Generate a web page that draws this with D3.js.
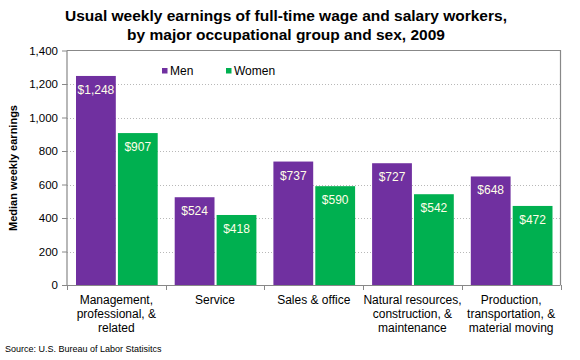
<!DOCTYPE html>
<html><head><meta charset="utf-8">
<script src="https://cdn.jsdelivr.net/npm/d3@7"></script>
<style>body{margin:0;background:#fff}svg{display:block}text{font-family:Arial,"Liberation Sans",sans-serif}</style>
</head><body><svg id="c" width="580" height="360"></svg>
<script>
const categories = [["Management,","professional, &","related"],["Service"],["Sales & office"],["Natural resources,","construction, &","maintenance"],["Production,","transportation, &","material moving"]];
const series = ["Men","Women"];
const men = [1248,524,737,727,648];
const women = [907,418,590,542,472];
const yTicks = [0,200,400,600,800,1000,1200,1400];
const colors = {Men:"#7030A0", Women:"#00B050"};

const svg = d3.select("#c");
const L=67,R=560.5,T=50.5,B=285;
const x0 = d3.scaleBand().domain(d3.range(categories.length)).range([L,R]).paddingInner(0).paddingOuter(0);
const x1 = d3.scaleBand().domain(series).range([9,x0.bandwidth()-8]).paddingInner(0.05);
const y = d3.scaleLinear().domain([0,1400]).range([B,T]);

svg.append("text").attr("x",286).attr("y",21).attr("text-anchor","middle").attr("font-size",15.5).attr("font-weight","bold").text("Usual weekly earnings of full-time wage and salary workers,");
svg.append("text").attr("x",286).attr("y",40).attr("text-anchor","middle").attr("font-size",15.5).attr("font-weight","bold").text("by major occupational group and sex, 2009");

// gridlines
svg.append("g").selectAll("line").data(yTicks.filter(d=>d>0 && d<1400)).join("line")
 .attr("x1",L).attr("x2",R).attr("y1",d=>Math.round(y(d))+0.5).attr("y2",d=>Math.round(y(d))+0.5)
 .attr("stroke","#b8b8b8").attr("stroke-dasharray","1,2");
// top & right border
svg.append("path").attr("d",`M${L},${T}H${R}V${B}`).attr("fill","none").attr("stroke","#888").attr("stroke-width",1.2);

const data = categories.map((c,i)=>({i, vals:[{k:"Men",v:men[i]},{k:"Women",v:women[i]}]}));
const g = svg.append("g").selectAll("g").data(data).join("g").attr("transform",d=>`translate(${x0(d.i)},0)`);
g.selectAll("rect").data(d=>d.vals).join("rect")
 .attr("x",d=>x1(d.k)).attr("width",x1.bandwidth()).attr("y",d=>y(d.v)).attr("height",d=>B-y(d.v)).attr("fill",d=>colors[d.k]);
g.selectAll("text").data(d=>d.vals).join("text")
 .attr("x",d=>x1(d.k)+x1.bandwidth()/2).attr("y",d=>y(d.v)+18).attr("text-anchor","middle")
 .attr("font-size",12).attr("fill","#FFFFE8").text(d=>"$"+d3.format(",")(d.v));

// y axis
const ya = svg.append("g").attr("transform",`translate(${L},0)`).call(d3.axisLeft(y).tickValues(yTicks).tickSize(5).tickPadding(4).tickFormat(d3.format(",")));
ya.select(".domain").attr("stroke","#888").attr("stroke-width",1.2).attr("d",`M0,${T}V${B}`);
ya.selectAll(".tick line").attr("stroke","#888");
ya.selectAll("text").attr("font-size",11.5).attr("fill","#000").attr("font-family","Arial,'Liberation Sans',sans-serif");

// x axis
svg.append("line").attr("x1",L-5).attr("x2",R).attr("y1",B+0.5).attr("y2",B+0.5).attr("stroke","#888").attr("stroke-width",1.2);
svg.append("g").selectAll("line").data(d3.range(categories.length+1)).join("line")
 .attr("x1",d=>Math.round(L+d*x0.bandwidth())+0.5).attr("x2",d=>Math.round(L+d*x0.bandwidth())+0.5)
 .attr("y1",B).attr("y2",B+5).attr("stroke","#888");
const cl = svg.append("g").selectAll("text").data(categories.map((c,i)=>({c,i}))).join("text")
 .attr("x",d=>x0(d.i)+x0.bandwidth()/2).attr("y",304).attr("text-anchor","middle").attr("font-size",12);
cl.selectAll("tspan").data(d=>d.c.map(s=>({s,x:x0(d.i)+x0.bandwidth()/2}))).join("tspan")
 .attr("x",d=>d.x).attr("dy",(d,i)=>i?14:0).text(d=>d.s);

// y label
svg.append("text").attr("transform","translate(17,168) rotate(-90)").attr("text-anchor","middle").attr("font-size",11).attr("font-weight","bold").text("Median weekly earnings");

// legend
const lg = svg.append("g").selectAll("g").data(series).join("g").attr("transform",(d,i)=>`translate(${162+i*64},0)`);
lg.append("rect").attr("x",0).attr("y",68).attr("width",5.5).attr("height",5.5).attr("fill",d=>colors[d]);
lg.append("text").attr("x",8).attr("y",75).attr("font-size",12).text(d=>d);

svg.append("text").attr("x",5).attr("y",352).attr("font-size",9).text("Source: U.S. Bureau of Labor Statisitcs");
</script></body></html>
